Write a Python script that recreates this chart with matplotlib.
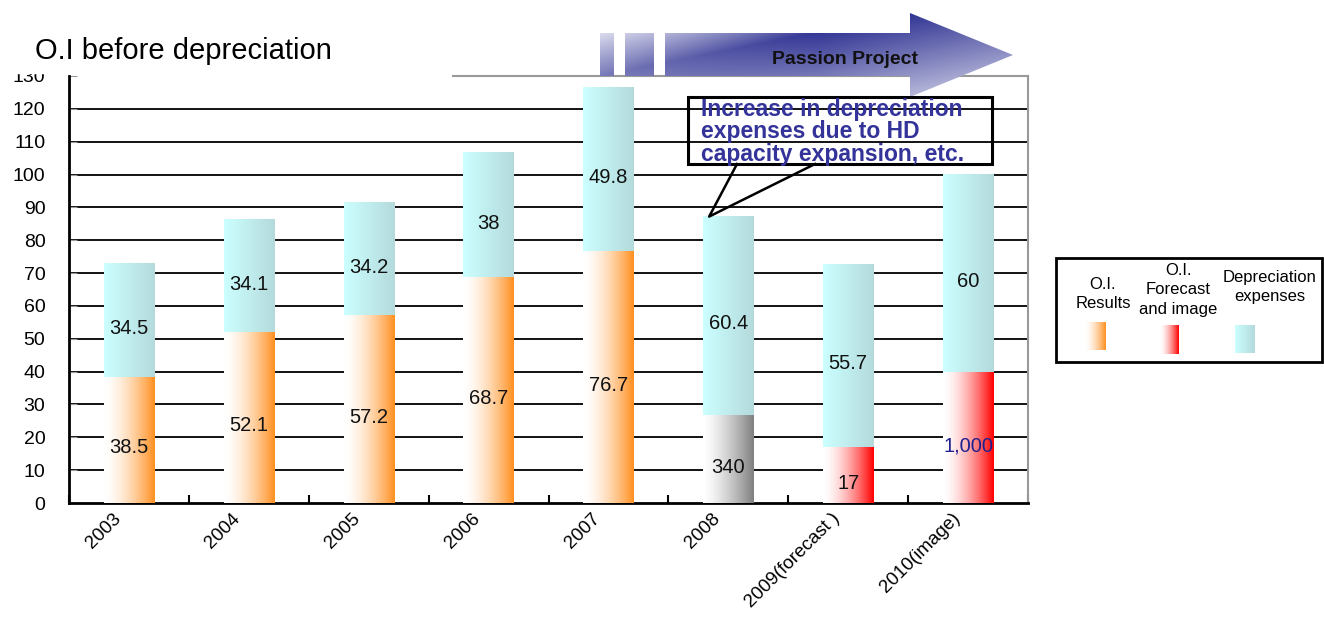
import numpy as np
import matplotlib
matplotlib.use('Agg')
import matplotlib.pyplot as plt
import matplotlib.transforms as mtransforms
from matplotlib.colors import to_rgb
from matplotlib.patches import Rectangle, Polygon

plt.rcParams['font.family'] = ['Liberation Sans', 'DejaVu Sans']

# data
years = ['2003', '2004', '2005', '2006', '2007', '2008', '2009(forecast )', '2010(image)']
oi = [38.5, 52.1, 57.2, 68.7, 76.7, 26.8, 17.0, 40.0]
oi_labels = ['38.5', '52.1', '57.2', '68.7', '76.7', '340', '17', '1,000']
depreciation = [34.5, 34.1, 34.2, 38.0, 49.8, 60.4, 55.7, 60.0]
dep_labels = ['34.5', '34.1', '34.2', '38', '49.8', '60.4', '55.7', '60']
oi_kind = ['result', 'result', 'result', 'result', 'result', 'past', 'forecast', 'forecast']

# left colour -> right colour, gamma of the blend
fills = {
    'result': ('#FFFFFF', '#FF9020', 1.6),
    'past': ('#FFFFFF', '#7F7F7F', 1.4),
    'forecast': ('#FFFFFF', '#FF0000', 1.6),
    'dep': ('#CCFFFF', '#B4DADC', 1.0),
}


def hgrad(c0, c1, gamma=1.0, n=128):
    t = np.linspace(0, 1, n) ** gamma
    a, b = np.array(to_rgb(c0)), np.array(to_rgb(c1))
    return (a[None, :] * (1 - t[:, None]) + b[None, :] * t[:, None])[None, :, :]


def grad_box(axis, x0, x1, y0, y1, kind, z=3):
    c0, c1, g = fills[kind]
    axis.imshow(hgrad(c0, c1, g), extent=(x0, x1, y0, y1), aspect='auto',
                interpolation='bilinear', zorder=z)


W, H = 1324, 623
fig = plt.figure(figsize=(W / 100, H / 100), dpi=100)
ax = fig.add_axes([69 / W, 120 / H, 959 / W, 427 / H])

n = len(years)
xs = np.arange(n)
bw = 0.42

for i in xs:
    grad_box(ax, i - bw / 2, i + bw / 2, 0, oi[i], oi_kind[i])
    grad_box(ax, i - bw / 2, i + bw / 2, oi[i], oi[i] + depreciation[i], 'dep')
    ax.text(i, oi[i] / 2 - 2.5, oi_labels[i], ha='center', va='center', fontsize=14.5,
            color='#1f1f8f' if i == n - 1 else '#111111', zorder=4)
    ax.text(i, oi[i] + depreciation[i] / 2 - 2.5, dep_labels[i], ha='center',
            va='center', fontsize=14.5, color='#111111', zorder=4)

ax.set_xlim(-0.5, n - 0.5)
ax.set_ylim(0, 130)
ax.set_autoscale_on(False)

ax.hlines(range(10, 121, 10), -0.5, n - 0.5, colors='black', lw=1.3, zorder=1)

ax.set_yticks(range(0, 131, 10))
ax.tick_params(axis='y', direction='in', length=6, color='#999999', labelsize=14, pad=17)

ax.set_xticks(xs)
ax.set_xticklabels(years, rotation=45, ha='right', va='top', rotation_mode='anchor',
                   fontsize=13.5)
ax.set_xticks(np.arange(-0.5, n, 1), minor=True)
ax.tick_params(axis='x', which='major', length=0, pad=5)
ax.tick_params(axis='x', which='minor', direction='in', length=6, width=1.5, color='black')
shift = mtransforms.ScaledTranslation(-0.17, 0, fig.dpi_scale_trans)
for lbl in ax.get_xticklabels():
    lbl.set_transform(lbl.get_transform() + shift)

for s in ['left', 'bottom']:
    ax.spines[s].set_linewidth(2)
    ax.spines[s].set_color('black')
ax.spines['right'].set_color('#999999')
ax.spines['right'].set_linewidth(1.5)
ax.spines['top'].set_visible(False)

# overlay in pixel coordinates for the decorations
ov = fig.add_axes([0, 0, 1, 1], zorder=5)
ov.set_xlim(0, W)
ov.set_ylim(H, 0)
ov.axis('off')


def to_px(x, y):
    px, py = ax.transData.transform((x, y))
    return px, H - py


x_right, y_top = to_px(n - 0.5, 130)
ov.add_patch(Rectangle((0, 0), 453, y_top - 3, color='white', zorder=1))
ov.plot([453, x_right], [y_top, y_top], color='#999999', lw=1.5, zorder=1)
ov.text(35, 51, 'O.I before depreciation', fontsize=21, ha='left', va='center', zorder=2)

# Passion Project arrow, shaded along a diagonal band
gx0, gx1, gy0, gy1 = 595, 1020, 10, 100
X, Y = np.meshgrid(np.linspace(gx0, gx1, 400), np.linspace(gy0, gy1, 120))
s = ((X - 600) * 63 + (Y - 76) * 310) / 316.3
d = np.where(s < 0, 1 + s / 45, 1 - s / 105)
d = np.clip(d, 0, 1) ** 0.9
d *= 0.6 + 0.4 * np.clip((X - 600) / 220, 0, 1)
d = (0.08 + 0.9 * d)[..., None]
light = np.array(to_rgb('#F4F4FA'))
dark = np.array(to_rgb('#2E3192'))
arrow_img = light * (1 - d) + dark * d

shapes = [
    [(600, 33), (614, 33), (614, 76), (600, 76)],
    [(625, 33), (654, 33), (654, 76), (625, 76)],
    [(665, 33), (910, 33), (910, 13), (1013, 55), (910, 97), (910, 76), (665, 76)],
]
for pts in shapes:
    clip = Polygon(pts, closed=True, transform=ov.transData, facecolor='none', edgecolor='none')
    ov.add_patch(clip)
    im = ov.imshow(arrow_img, extent=(gx0, gx1, gy1, gy0), aspect='auto',
                   interpolation='bilinear', zorder=2)
    im.set_clip_path(clip)
ov.text(845, 60, 'Passion Project', fontsize=14, fontweight='bold', ha='center',
        va='center', color='#111111', zorder=3)

# callout pointing at the 2008 bar
tip = to_px(5 - bw / 2 + 0.05, oi[5] + depreciation[5])
ov.plot([737, tip[0], 815], [164, tip[1], 164], color='black', lw=1.8, zorder=3)
ov.add_patch(Rectangle((688, 97), 304, 67, facecolor='none', edgecolor='black', lw=2.2,
                       zorder=4))
ov.text(701, 98, 'Increase in depreciation\nexpenses due to HD\ncapacity expansion, etc.',
        fontsize=16.5, fontweight='bold', color='#333399', ha='left', va='top',
        linespacing=0.97, zorder=5)

# legend
ov.add_patch(Rectangle((1056, 258), 266, 104, facecolor='white', edgecolor='black', lw=2,
                       zorder=2))
ov.text(1103, 294, 'O.I.\nResults', fontsize=12, ha='center', va='center',
        linespacing=1.4, zorder=3)
ov.text(1178, 290, 'O.I.\nForecast\nand image', fontsize=12, ha='center', va='center',
        linespacing=1.4, zorder=3)
ov.text(1270, 287, 'Depreciation\nexpenses', fontsize=12, ha='center', va='center',
        linespacing=1.4, zorder=3)
grad_box(ov, 1085, 1106, 350, 322, 'result', z=3)
grad_box(ov, 1160, 1179, 354, 325, 'forecast', z=3)
grad_box(ov, 1235, 1255, 353, 325, 'dep', z=3)

fig.savefig('out.png', dpi=100)
